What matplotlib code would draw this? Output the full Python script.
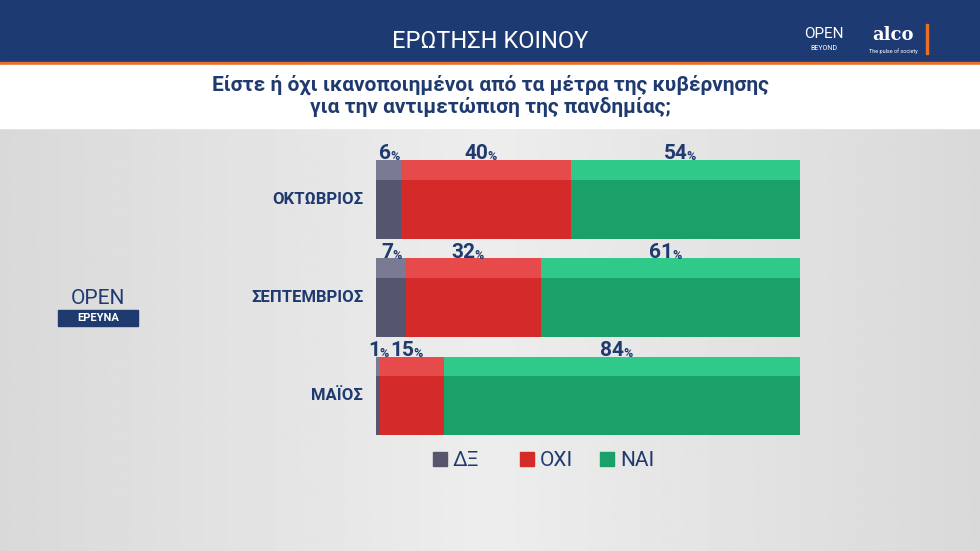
import matplotlib
matplotlib.use("Agg")
import matplotlib.pyplot as plt
from matplotlib.patches import Rectangle
import numpy as np

months = ["ΟΚΤΩΒΡΙΟΣ", "ΣΕΠΤΕΜΒΡΙΟΣ", "ΜΑΪΟΣ"]
series = ["ΔΞ", "ΟΧΙ", "ΝΑΙ"]
values = {"ΔΞ": [6, 7, 1], "ΟΧΙ": [40, 32, 15], "ΝΑΙ": [54, 61, 84]}
colors = {"ΔΞ": "#55566e", "ΟΧΙ": "#d42a2a", "ΝΑΙ": "#1aa069"}
tops = {"ΔΞ": "#7a7b92", "ΟΧΙ": "#e64a4a", "ΝΑΙ": "#2fc98a"}
navy = "#1f3a6e"
plt.rcParams['font.family'] = ['Roboto', 'DejaVu Sans']

W, H = 980, 551
fig = plt.figure(figsize=(9.8, 5.51), dpi=100)
bg = fig.add_axes([0, 0, 1, 1])
bg.set_xlim(0, W); bg.set_ylim(H, 0); bg.axis("off")
bg.imshow(0.93 - 0.08 * np.abs(np.linspace(-1, 1, 300))[None, :] * np.ones((200, 1)),
          extent=[0, W, H, 128], cmap="gray", vmin=0, vmax=1, aspect="auto")
bg.add_patch(Rectangle((0, 0), W, 62, color="#1d3a72"))
bg.add_patch(Rectangle((0, 62), W, 3, color="#e8702a"))
bg.add_patch(Rectangle((0, 65), W, 63, color="white"))
bg.text(490, 42, "ΕΡΩΤΗΣΗ ΚΟΙΝΟΥ", color="white", fontsize=17, ha="center", va="center")
bg.text(490, 96, "Είστε ή όχι ικανοποιημένοι από τα μέτρα της κυβέρνησης\nγια την αντιμετώπιση της πανδημίας;",
        color=navy, fontsize=15, fontweight="bold", ha="center", va="center", linespacing=1.1)
bg.text(824, 34, "OPEN", color="white", fontsize=11, ha="center", va="center")
bg.text(824, 49, "BEYOND", color="white", fontsize=5, ha="center", va="center")
bg.text(893, 35, "alco", color="white", fontsize=13, fontweight="bold", ha="center", va="center", family="DejaVu Serif")
bg.text(893, 51, "The pulse of society", color="white", fontsize=4, ha="center", va="center")
bg.add_patch(Rectangle((926, 24), 2, 30, color="#e8702a"))
bg.text(98, 298, "OPEN", color=navy, fontsize=15, ha="center", va="center")
bg.add_patch(Rectangle((58, 310), 80, 16, color=navy))
bg.text(98, 318, "ΕΡΕΥΝΑ", color="white", fontsize=8, fontweight="bold", ha="center", va="center")

ax = fig.add_axes([376 / W, 1 - 445 / H, 424 / W, 295 / H])
ax.set_xlim(0, 100); ax.set_ylim(2.5, -0.5); ax.axis("off")
y = np.arange(len(months))
left = np.zeros(len(months))
for s in series:
    v = np.array(values[s], float)
    ax.barh(y, v, left=left, height=0.8, color=colors[s])
    ax.barh(y - 0.3, v, left=left, height=0.2, color=tops[s])
    for i in range(len(months)):
        cx = left[i] + v[i] / 2
        ax.text(cx + 0.5, y[i] - 0.46, f"{int(v[i])}", color=navy, fontsize=15, fontweight="bold",
                ha="right", va="center")
        ax.text(cx + 0.3, y[i] - 0.43, "%", color=navy, fontsize=9, fontweight="bold", ha="left", va="center")
    left += v
for i, m in enumerate(months):
    ax.text(-3, y[i], m, color=navy, fontsize=12, fontweight="bold", ha="right", va="center")

lx = [433, 520, 600]
for s, x in zip(series, lx):
    bg.add_patch(Rectangle((x, 452), 14, 14, color=colors[s]))
    bg.text(x + 20, 460, s, color=navy, fontsize=15, ha="left", va="center")

fig.savefig("out.png", dpi=100)
